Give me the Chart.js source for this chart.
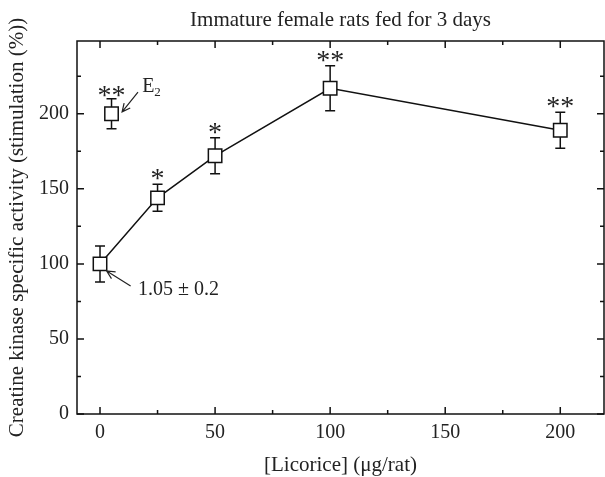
<!DOCTYPE html>
<html>
<head>
<meta charset="utf-8">
<script src="https://cdn.jsdelivr.net/npm/chart.js@4/dist/chart.umd.min.js"></script>
<style>
  html, body { margin: 0; padding: 0; background: #fff; }
  #wrap { width: 605px; height: 477px; }
</style>
</head>
<body>
<div id="wrap"><canvas id="chart" width="605" height="477"></canvas></div>
<script>
// licorice dose (ug/rat) and creatine kinase stimulation (%)
const doses = [0, 25, 50, 100, 200];
const activity = [100, 144, 172, 217, 189];
const activityErr = [12, 9, 12, 15, 12];
const activityStars = ['', '*', '*', '**', '**'];

// estradiol reference point
const e2Dose = [5];
const e2Activity = [200];
const e2Err = [10];
const e2Stars = ['**'];

const xTicks = [0, 50, 100, 150, 200];
const yTicks = [0, 50, 100, 150, 200];
const xMinor = [25, 75, 125, 175];
const yMinor = [25, 75, 125, 175, 225];

const serif = "'Liberation Serif', 'DejaVu Serif', serif";

// error bars, stars, arrows and the boxed frame with inward ticks
const decor = {
  id: 'decor',
  beforeDatasetsDraw(chart) {
    const { ctx, scales: { x, y } } = chart;
    ctx.save();
    ctx.strokeStyle = '#111';
    ctx.lineWidth = 1.5;
    const bars = (xs, ys, es) => {
      xs.forEach((v, i) => {
        const px = x.getPixelForValue(v);
        const top = y.getPixelForValue(ys[i] + es[i]);
        const bot = y.getPixelForValue(ys[i] - es[i]);
        ctx.beginPath();
        ctx.moveTo(px, top); ctx.lineTo(px, bot);
        ctx.moveTo(px - 5, top); ctx.lineTo(px + 5, top);
        ctx.moveTo(px - 5, bot); ctx.lineTo(px + 5, bot);
        ctx.stroke();
      });
    };
    bars(doses, activity, activityErr);
    bars(e2Dose, e2Activity, e2Err);
    ctx.restore();
  },
  afterDatasetsDraw(chart) {
    const { ctx, scales: { x, y } } = chart;
    ctx.save();
    ctx.fillStyle = '#222';
    ctx.strokeStyle = '#222';
    ctx.textAlign = 'center';
    ctx.textBaseline = 'alphabetic';
    ctx.font = '28px ' + serif;
    const stars = (xs, ys, es, ss, gap) => {
      xs.forEach((v, i) => {
        if (!ss[i]) return;
        ctx.fillText(ss[i], x.getPixelForValue(v), y.getPixelForValue(ys[i] + es[i]) + gap);
      });
    };
    stars(doses, activity, activityErr, activityStars, 3);
    stars(e2Dose, e2Activity, e2Err, e2Stars, 5);

    const arrow = (x1, y1, x2, y2) => {
      const ax = x.getPixelForValue(x1), ay = y.getPixelForValue(y1);
      const bx = x.getPixelForValue(x2), by = y.getPixelForValue(y2);
      const ang = Math.atan2(by - ay, bx - ax);
      ctx.lineWidth = 1.2;
      ctx.beginPath();
      ctx.moveTo(ax, ay); ctx.lineTo(bx, by);
      ctx.moveTo(bx - 9 * Math.cos(ang - 0.45), by - 9 * Math.sin(ang - 0.45));
      ctx.lineTo(bx, by);
      ctx.lineTo(bx - 9 * Math.cos(ang + 0.45), by - 9 * Math.sin(ang + 0.45));
      ctx.stroke();
    };
    arrow(16.5, 214.5, 9.6, 201.3);
    arrow(13.3, 85.3, 2.9, 95.3);

    ctx.textAlign = 'left';
    ctx.textBaseline = 'middle';
    ctx.font = '20px ' + serif;
    const ex = x.getPixelForValue(18.3), ey = y.getPixelForValue(218);
    ctx.fillText('E', ex, ey);
    const ew = ctx.measureText('E').width;
    ctx.font = '13px ' + serif;
    ctx.fillText('2', ex + ew, ey + 6);
    ctx.font = '20px ' + serif;
    ctx.fillText('1.05 \u00b1 0.2', x.getPixelForValue(16.5), y.getPixelForValue(82.5));
    ctx.restore();
  },
  afterDraw(chart) {
    const { ctx, chartArea: a, scales: { x, y } } = chart;
    ctx.save();
    ctx.strokeStyle = '#111';
    ctx.lineWidth = 1.5;
    ctx.strokeRect(a.left, a.top, a.right - a.left, a.bottom - a.top);
    ctx.beginPath();
    const tx = (vals, len) => vals.forEach(v => {
      const px = x.getPixelForValue(v);
      ctx.moveTo(px, a.bottom); ctx.lineTo(px, a.bottom - len);
      ctx.moveTo(px, a.top); ctx.lineTo(px, a.top + len);
    });
    const ty = (vals, len) => vals.forEach(v => {
      const py = y.getPixelForValue(v);
      ctx.moveTo(a.left, py); ctx.lineTo(a.left + len, py);
      ctx.moveTo(a.right, py); ctx.lineTo(a.right - len, py);
    });
    tx(xTicks, 7); tx(xMinor, 4);
    ty(yTicks, 7); ty(yMinor, 4);
    ctx.stroke();
    ctx.restore();
  }
};

new Chart(document.getElementById('chart'), {
  type: 'scatter',
  data: {
    datasets: [
      {
        label: 'Licorice',
        data: doses.map((d, i) => ({ x: d, y: activity[i] })),
        showLine: true,
        borderColor: '#111',
        borderWidth: 1.5,
        pointStyle: 'rect',
        pointRadius: 9.5,
        pointBackgroundColor: '#fff',
        pointBorderColor: '#111',
        pointBorderWidth: 1.5
      },
      {
        label: 'E2',
        data: e2Dose.map((d, i) => ({ x: d, y: e2Activity[i] })),
        showLine: false,
        pointStyle: 'rect',
        pointRadius: 9.5,
        pointBackgroundColor: '#fff',
        pointBorderColor: '#111',
        pointBorderWidth: 1.5
      }
    ]
  },
  options: {
    responsive: false,
    animation: false,
    events: [],
    layout: { autoPadding: false, padding: { top: 0, right: 1, left: 0, bottom: 0 } },
    plugins: {
      legend: { display: false },
      tooltip: { enabled: false },
      title: {
        display: true,
        fullSize: false,
        text: 'Immature female rats fed for 3 days',
        color: '#222',
        font: { family: serif, size: 21, weight: 'normal' },
        padding: { top: 8, bottom: 7.8 }
      }
    },
    scales: {
      x: {
        type: 'linear',
        min: -10,
        max: 219,
        afterBuildTicks: s => { s.ticks = xTicks.map(v => ({ value: v })); },
        afterFit: s => { s.height = 63; s.paddingLeft = 0; s.paddingRight = 0; },
        grid: { display: false, drawTicks: false },
        border: { display: false },
        ticks: { color: '#222', padding: 7, font: { family: serif, size: 20 } },
        title: {
          display: true,
          text: '[Licorice] (\u03bcg/rat)',
          color: '#222',
          font: { family: serif, size: 21 },
          padding: { top: 0, bottom: -1.5 }
        }
      },
      y: {
        type: 'linear',
        min: 0,
        max: 248.5,
        afterBuildTicks: s => { s.ticks = yTicks.map(v => ({ value: v })); },
        afterFit: s => { s.width = 77; s.paddingTop = 0; s.paddingBottom = 0; },
        grid: { display: false, drawTicks: false },
        border: { display: false },
        ticks: { color: '#222', padding: 8, font: { family: serif, size: 20 } },
        title: {
          display: true,
          text: 'Creatine kinase specific activity (stimulation (%))',
          color: '#222',
          font: { family: serif, size: 21 },
          padding: { top: 5, bottom: 0 }
        }
      }
    }
  },
  plugins: [decor]
});
</script>
</body>
</html>
